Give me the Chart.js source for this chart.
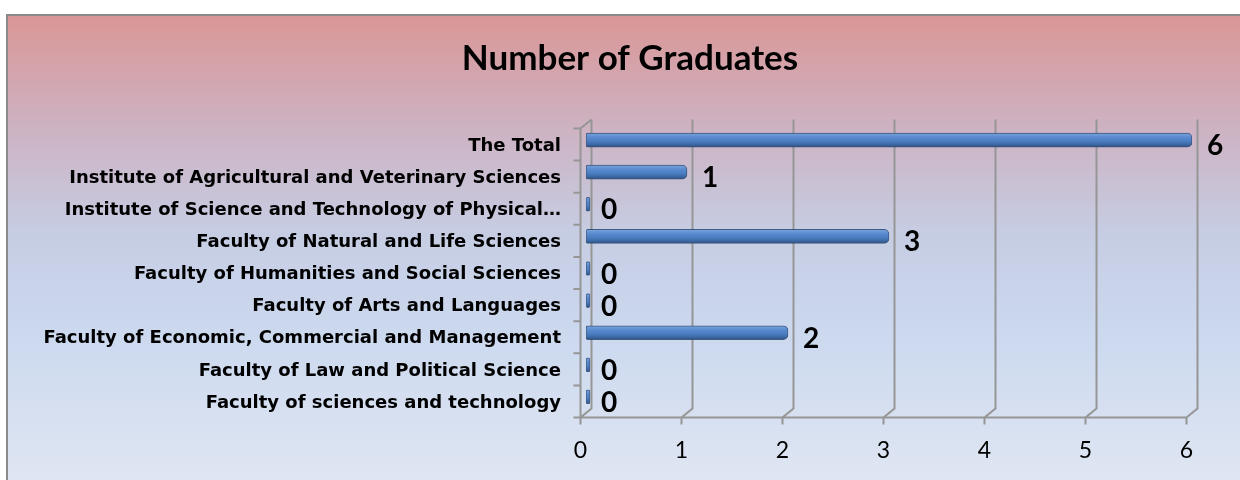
<!DOCTYPE html>
<html>
<head>
<meta charset="utf-8">
<script src="https://cdn.jsdelivr.net/npm/chart.js@4/dist/chart.umd.min.js"></script>
<style>
  html, body { margin: 0; padding: 0; background: #fff; }
  #wrap { width: 1240px; height: 480px; }
</style>
</head>
<body>
<div id="wrap"><canvas id="c" width="1240" height="480"></canvas></div>
<script>
const categories = [
  'The Total',
  'Institute of Agricultural and Veterinary Sciences',
  'Institute of Science and Technology of Physical…',
  'Faculty of Natural and Life Sciences',
  'Faculty of Humanities and Social Sciences',
  'Faculty of Arts and Languages',
  'Faculty of Economic, Commercial and Management',
  'Faculty of Law and Political Science',
  'Faculty of sciences and technology'
];
const graduates = [6, 1, 0, 3, 0, 0, 2, 0, 0];
const xTicks = [0, 1, 2, 3, 4, 5, 6];

// 3D depth offsets (back wall is up/right, floor front is down/left)
const DX = 5.5, DY = 4.5;
const GRID = '#969696';

const backdrop = {
  id: 'backdrop',
  beforeDraw(chart) {
    const ctx = chart.ctx;
    ctx.save();
    ctx.fillStyle = '#fff';
    ctx.fillRect(0, 0, chart.width, chart.height);
    const g = ctx.createLinearGradient(0, 14, 0, 480);
    g.addColorStop(0, '#DA9696');
    g.addColorStop(0.25, '#CDB3C3');
    g.addColorStop(0.47, '#C6CDE3');
    g.addColorStop(0.68, '#CBD8EE');
    g.addColorStop(1, '#DFE6F3');
    ctx.fillStyle = g;
    ctx.fillRect(6, 14, chart.width - 6, chart.height - 14);
    ctx.strokeStyle = '#8a8a8a';
    ctx.lineWidth = 2;
    ctx.beginPath();
    ctx.moveTo(7, chart.height);
    ctx.lineTo(7, 15);
    ctx.lineTo(chart.width, 15);
    ctx.stroke();
    ctx.restore();
  }
};

const walls = {
  id: 'walls',
  beforeDatasetsDraw(chart) {
    const ctx = chart.ctx;
    const xs = chart.scales.x;
    const a = chart.chartArea;
    ctx.save();
    ctx.strokeStyle = GRID;
    ctx.lineWidth = 2;
    ctx.beginPath();
    xTicks.forEach(v => {
      const x = xs.getPixelForValue(v);
      ctx.moveTo(x + DX, a.top - DY);
      ctx.lineTo(x + DX, a.bottom - DY);
      ctx.lineTo(x - DX, a.bottom + DY);
      ctx.lineTo(x - DX, a.bottom + DY + 7);
    });
    const x0 = xs.getPixelForValue(0), x6 = xs.getPixelForValue(6);
    ctx.moveTo(x0 - DX - 7, a.bottom + DY);
    ctx.lineTo(x6 - DX, a.bottom + DY);
    ctx.moveTo(x0 + DX, a.top - DY);
    ctx.lineTo(x0 - DX, a.top + DY);
    ctx.lineTo(x0 - DX, a.bottom + DY);
    const step = (a.bottom - a.top) / categories.length;
    for (let i = 0; i <= categories.length; i++) {
      const y = a.top + DY + i * step;
      ctx.moveTo(x0 - DX - 7, y);
      ctx.lineTo(x0 - DX, y);
    }
    ctx.stroke();
    ctx.restore();
  },
  afterDatasetsDraw(chart) {
    const ctx = chart.ctx;
    const xs = chart.scales.x;
    const meta = chart.getDatasetMeta(0);
    ctx.save();
    ctx.fillStyle = '#000';
    ctx.font = 'bold 28px Lato';
    ctx.textAlign = 'left';
    ctx.textBaseline = 'middle';
    meta.data.forEach((el, i) => {
      const v = graduates[i];
      ctx.fillText(String(v), xs.getPixelForValue(v) + 15, el.y + 6);
    });
    ctx.restore();
  }
};

function barFill(c) {
  const ch = c.chart;
  const ys = ch.scales && ch.scales.y;
  if (!ys || !ch.chartArea) return '#4F81BD';
  const y = ys.getPixelForValue(c.dataIndex);
  if (!isFinite(y)) return '#4F81BD';
  const g = ch.ctx.createLinearGradient(0, y - 7, 0, y + 7);
  g.addColorStop(0, '#7AA4DC');
  g.addColorStop(0.3, '#5A8BD0');
  g.addColorStop(0.6, '#4A7CC0');
  g.addColorStop(0.85, '#3A659F');
  g.addColorStop(1, '#2A4B7A');
  return g;
}

new Chart(document.getElementById('c'), {
  type: 'bar',
  data: {
    labels: categories,
    datasets: [{
      data: graduates,
      backgroundColor: barFill,
      borderColor: 'rgba(40,70,112,0.85)',
      borderWidth: 1,
      borderSkipped: false,
      borderRadius: { topLeft: 2, bottomLeft: 2, topRight: 5, bottomRight: 5 },
      barThickness: 14,
      minBarLength: 4
    }]
  },
  options: {
    indexAxis: 'y',
    responsive: false,
    animation: false,
    // negative right padding + an empty right axis keeps the title centred at 630
    layout: { padding: { left: 0, right: -20, top: 0, bottom: 0 } },
    plugins: {
      legend: { display: false },
      tooltip: { enabled: false },
      title: {
        display: true,
        text: 'Number of Graduates',
        color: '#000',
        font: { family: 'Lato', size: 35, weight: 'bold' },
        padding: { top: 38, bottom: 44 }
      }
    },
    scales: {
      x: {
        min: 0, max: 6,
        border: { display: false },
        grid: { display: false, drawTicks: false },
        ticks: {
          stepSize: 1,
          color: '#000',
          font: { family: 'Lato', size: 23 },
          padding: 24,
          labelOffset: -DX
        },
        afterFit(s) { s.height = 67; }
      },
      y: {
        border: { display: false },
        grid: { display: false, drawTicks: false },
        ticks: {
          color: '#000',
          font: { family: 'DejaVu Sans', size: 18, weight: 'bold' },
          padding: 25,
          labelOffset: 6,
          autoSkip: false
        },
        afterFit(s) { s.width = 586; }
      },
      spacer: {
        type: 'linear',
        position: 'right',
        axis: 'y',
        border: { display: false },
        grid: { display: false, drawTicks: false },
        ticks: { display: false },
        afterFit(s) { s.width = 68; }
      }
    }
  },
  plugins: [backdrop, walls]
});
</script>
</body>
</html>
